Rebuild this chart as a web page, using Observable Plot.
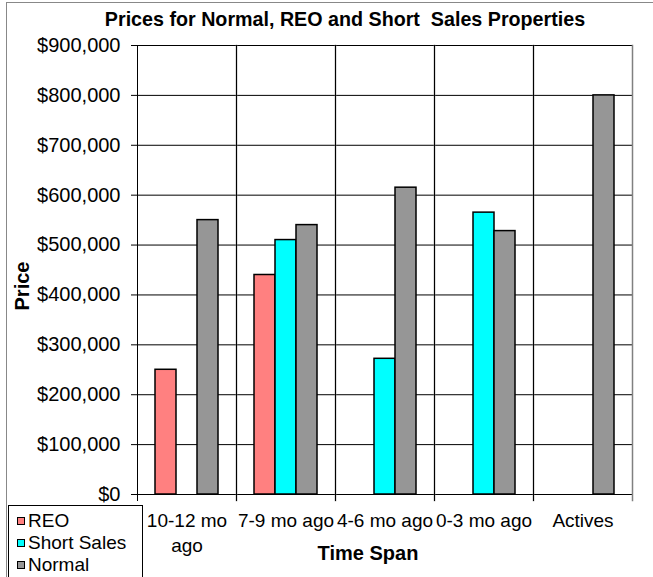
<!DOCTYPE html>
<html>
<head>
<meta charset="utf-8">
<script src="https://cdn.jsdelivr.net/npm/d3@7"></script>
<script src="https://cdn.jsdelivr.net/npm/@observablehq/plot@0.6"></script>
<style>
  html, body { margin: 0; padding: 0; background: #fff; }
  #wrap { position: relative; width: 653px; height: 577px; overflow: hidden; font-family: "Liberation Sans", Arial, sans-serif; color: #000; }
  #border { position: absolute; left: 6px; top: 2px; width: 700px; height: 700px; border-left: 1px solid #888; border-top: 1px solid #888; }
  #title { position: absolute; left: 0; width: 690px; top: 8px; text-align: center; font-weight: bold; font-size: 19.7px; white-space: pre; }
  #chart { position: absolute; left: 0; top: 35px; }
  #ylabel { position: absolute; left: 22px; top: 286px; transform: translate(-50%, -50%) rotate(-90deg); font-weight: bold; font-size: 20px; white-space: nowrap; }
  #xlabel { position: absolute; left: 368px; top: 553px; transform: translate(-50%, -50%); font-weight: bold; font-size: 20px; white-space: nowrap; }
  #legend { position: absolute; left: 8px; top: 505px; width: 133px; height: 90px; border: 1px solid #000; background: #fff; font-size: 19px; }
  .item { position: absolute; left: 8px; display: flex; align-items: center; white-space: nowrap; }
  .sw { width: 6px; height: 6px; border: 1.5px solid #000; margin-right: 3px; }
</style>
</head>
<body>
<div id="wrap">
  <div id="border"></div>
  <div id="title"></div>
  <div id="chart"></div>
  <div id="ylabel"></div>
  <div id="xlabel"></div>
  <div id="legend"></div>
</div>
<script>
const titleText = "Prices for Normal, REO and Short  Sales Properties";
const yTitle = "Price";
const xTitle = "Time Span";
const categories = ["10-12 mo ago", "7-9 mo ago", "4-6 mo ago", "0-3 mo ago", "Actives"];
const categoryLabels = ["10-12 mo\nago", "7-9 mo ago", "4-6 mo ago", "0-3 mo ago", "Actives"];
const series = ["REO", "Short Sales", "Normal"];
const reo = [250000, 440000, null, null, null];
const shortSales = [null, 510000, 272000, 565000, null];
const normal = [550000, 540000, 615000, 528000, 800000];
const colors = ["#FF8080", "#00FFFF", "#969696"];
const yTicks = [0, 100000, 200000, 300000, 400000, 500000, 600000, 700000, 800000, 900000];

const valuesBySeries = [reo, shortSales, normal];
const data = categories.flatMap((c, i) =>
  series.map((s, j) => ({category: c, series: s, price: valuesBySeries[j][i]}))
).filter(d => d.price != null);

document.getElementById("title").textContent = titleText;
document.getElementById("ylabel").textContent = yTitle;
document.getElementById("xlabel").textContent = xTitle;

const legend = document.getElementById("legend");
series.forEach((s, i) => {
  const it = document.createElement("div");
  it.className = "item";
  it.style.top = (4 + i * 22) + "px";
  const sw = document.createElement("span");
  sw.className = "sw";
  sw.style.background = colors[i];
  const tx = document.createElement("span");
  tx.textContent = s;
  it.appendChild(sw);
  it.appendChild(tx);
  legend.appendChild(it);
});

const fmt = d3.format(",");
const chart = Plot.plot({
  width: 653,
  height: 542,
  marginTop: 10,
  marginLeft: 136,
  marginRight: 20,
  marginBottom: 83,
  style: {fontFamily: "'Liberation Sans', Arial, sans-serif", fontSize: "19px", background: "transparent", color: "#000", overflow: "visible"},
  fx: {domain: categories, padding: 0, label: null},
  x: {domain: series, paddingInner: 0, paddingOuter: 0.76, axis: null},
  y: {domain: [0, 900000], label: null},
  color: {domain: series, range: colors},
  marks: [
    Plot.gridY(yTicks, {stroke: "#000", strokeOpacity: 1, strokeWidth: 1}),
    Plot.frame({anchor: "right", stroke: "#808080", strokeWidth: 1.5, insetBottom: -6}),
    Plot.frame({anchor: "left", stroke: "#000", strokeWidth: 1, insetBottom: -6}),
    Plot.barY(data, {fx: "category", x: "series", y: "price", fill: "series", stroke: "#000", strokeWidth: 1.5}),
    Plot.axisY(yTicks, {tickSize: 6, tickPadding: 11, tickFormat: d => "$" + fmt(d), label: null, fontSize: 20}),
    Plot.axisFx({anchor: "bottom", tickSize: 0, tickPadding: 15, lineHeight: 1.3, label: null, fontSize: 19,
      tickFormat: d => categoryLabels[categories.indexOf(d)]})
  ]
});
document.getElementById("chart").appendChild(chart);
</script>
</body>
</html>
